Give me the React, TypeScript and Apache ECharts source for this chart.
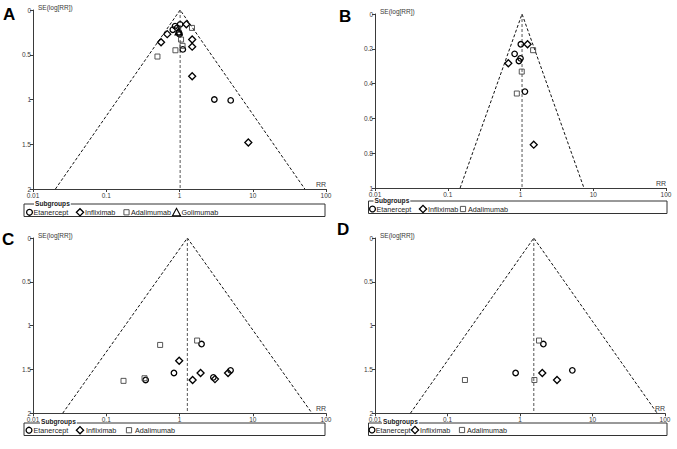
import React, { useEffect, useRef } from "react";
import * as echarts from "echarts";

// ---------- data ----------
const xTickLabels = ["0.01", "0.1", "1", "10", "100"];
const yTickLabels2 = ["0", "0.5", "1", "1.5", "2"];
const yTickLabels1 = ["0", "0.2", "0.4", "0.6", "0.8", "1"];
const groupNames = ["Etanercept", "Infliximab", "Adalimumab", "Golimumab"];

// Panel A  [RR, SE(log RR)]
const pooledA = 1.02;
const etanerceptA = [[0.87, 0.18], [1.02, 0.16], [0.81, 0.22], [0.93, 0.2], [0.98, 0.25], [1.0, 0.27], [1.11, 0.44], [2.99, 1.0], [5.0, 1.01]];
const infliximabA = [[1.24, 0.16], [0.68, 0.27], [0.56, 0.36], [1.49, 0.33], [1.49, 0.41], [1.49, 0.74], [8.7, 1.48]];
const adalimumabA = [[1.48, 0.2], [1.05, 0.33], [1.1, 0.4], [0.88, 0.45], [0.5, 0.52], [0.96, 0.22]];
const golimumabA = [[0.97, 0.24]];

// Panel B
const pooledB = 1.05;
const etanerceptB = [[1.01, 0.174], [0.83, 0.229], [1.0, 0.255], [0.95, 0.27], [1.15, 0.446]];
const infliximabB = [[1.25, 0.174], [0.68, 0.283], [1.52, 0.751]];
const adalimumabB = [[1.49, 0.208], [1.04, 0.331], [0.89, 0.457]];

// Panel C
const pooledC = 1.28;
const etanerceptC = [[2.0, 1.21], [0.84, 1.54], [0.345, 1.62], [2.9, 1.59], [4.98, 1.51]];
const infliximabC = [[0.99, 1.4], [1.94, 1.54], [1.51, 1.62], [3.05, 1.61], [4.6, 1.54]];
const adalimumabC = [[0.544, 1.22], [1.74, 1.17], [0.172, 1.63], [0.333, 1.6]];

// Panel D
const pooledD = 1.55;
const etanerceptD = [[2.1, 1.21], [0.87, 1.54], [5.27, 1.51]];
const infliximabD = [[2.03, 1.54], [3.24, 1.62]];
const adalimumabD = [[1.83, 1.17], [0.174, 1.62], [1.58, 1.62]];

// ---------- styles / layout ----------
const FONT = "'Liberation Sans', Arial, Helvetica, sans-serif";
const AXIS = "#3a3a3a";
const symbolStyles = [
  { symbol: "circle", size: 5.5, border: "#000", width: 1.3 },
  { symbol: "diamond", size: 7, border: "#000", width: 1.3 },
  { symbol: "rect", size: 5, border: "#444", width: 0.9 },
  { symbol: "triangle", size: 7, border: "#000", width: 1.1 },
];

const panels = [
  {
    letter: "A", letterPos: [3, 6],
    grid: { left: 33, top: 10, width: 293, height: 179 },
    yMax: 2, yInterval: 0.5, yLabels: yTickLabels2, pooled: pooledA,
    groups: [etanerceptA, infliximabA, adalimumabA, golimumabA],
    legendBox: [24, 204, 301, 12.5], subgroupsPos: [34, 203.5], itemsY: 212.3,
    iconX: [29.5, 80, 126.5, 176.5], textX: [33.5, 85, 131, 181.5],
  },
  {
    letter: "B", letterPos: [339, 8],
    grid: { left: 375, top: 14, width: 291, height: 174 },
    yMax: 1, yInterval: 0.2, yLabels: yTickLabels1, pooled: pooledB,
    groups: [etanerceptB, infliximabB, adalimumabB],
    legendBox: [368.5, 201, 298.5, 12.5], subgroupsPos: [373.5, 200.5], itemsY: 209,
    iconX: [372.5, 423, 463], textX: [376.5, 428, 468],
  },
  {
    letter: "C", letterPos: [2, 231],
    grid: { left: 33, top: 238, width: 293, height: 175.3 },
    yMax: 2, yInterval: 0.5, yLabels: yTickLabels2, pooled: pooledC,
    groups: [etanerceptC, infliximabC, adalimumabC],
    legendBox: [24, 423, 301, 12.5], subgroupsPos: [40, 421.8], itemsY: 430.2,
    iconX: [29, 80, 129], textX: [33.5, 86, 135],
  },
  {
    letter: "D", letterPos: [337, 221],
    grid: { left: 375, top: 238, width: 290, height: 175.3 },
    yMax: 2, yInterval: 0.5, yLabels: yTickLabels2, pooled: pooledD,
    groups: [etanerceptD, infliximabD, adalimumabD],
    legendBox: [368.5, 423, 298.5, 12.5], subgroupsPos: [382, 421.8], itemsY: 430,
    iconX: [372, 415, 462], textX: [375.8, 420, 467],
  },
];

function legendIcon(gi: number, cx: number, cy: number) {
  if (gi === 0) return { type: "circle", shape: { cx, cy, r: 2.9 }, style: { fill: "none", stroke: "#000", lineWidth: 1.3 } };
  if (gi === 1) return { type: "polygon", shape: { points: [[cx - 3.6, cy], [cx, cy - 3.6], [cx + 3.6, cy], [cx, cy + 3.6]] }, style: { fill: "none", stroke: "#000", lineWidth: 1.3 } };
  if (gi === 2) return { type: "rect", shape: { x: cx - 2.6, y: cy - 2.6, width: 5.2, height: 5.2 }, style: { fill: "none", stroke: "#444", lineWidth: 0.9 } };
  return { type: "polygon", shape: { points: [[cx - 4, cy + 3.5], [cx, cy - 4], [cx + 4, cy + 3.5]] }, style: { fill: "none", stroke: "#000", lineWidth: 1.1 } };
}

function buildOption() {
  const grid: any[] = [];
  const xAxis: any[] = [];
  const yAxis: any[] = [];
  const series: any[] = [];
  const graphic: any[] = [];

  panels.forEach((p, i) => {
    grid.push({ ...p.grid, containLabel: false });
    xAxis.push({
      type: "log", logBase: 10, min: 0.01, max: 100, gridIndex: i,
      axisLine: { onZero: false, lineStyle: { color: AXIS, width: 1 } },
      axisTick: { show: true, length: 3, lineStyle: { color: AXIS } },
      axisLabel: {
        fontSize: 6.5, color: AXIS, margin: 3, fontFamily: FONT, interval: 0,
        formatter: (v: number) => xTickLabels[Math.round(Math.log10(v)) + 2] ?? "",
      },
      splitLine: { show: false },
    });
    yAxis.push({
      type: "value", inverse: true, min: 0, max: p.yMax, interval: p.yInterval, gridIndex: i,
      axisLine: { show: true, onZero: false, lineStyle: { color: AXIS, width: 1 } },
      axisTick: { show: true, length: 3, lineStyle: { color: AXIS } },
      axisLabel: {
        fontSize: 6.5, color: AXIS, margin: 2, fontFamily: FONT,
        formatter: (_v: number, idx: number) => p.yLabels[idx] ?? "",
      },
      splitLine: { show: false },
    });

    const z = 1.96 * p.yMax;
    series.push({
      type: "line", xAxisIndex: i, yAxisIndex: i, symbol: "none", silent: true, z: 1,
      data: [[p.pooled * Math.exp(-z), p.yMax], [p.pooled, 0], [p.pooled * Math.exp(z), p.yMax]],
      lineStyle: { color: "#111", width: 1, type: [3, 2] },
    });
    series.push({
      type: "line", xAxisIndex: i, yAxisIndex: i, symbol: "none", silent: true, z: 1,
      data: [[p.pooled, 0], [p.pooled, p.yMax]],
      lineStyle: { color: "#555", width: 1, type: [3, 2] },
    });
    p.groups.forEach((g, gi) => {
      const s = symbolStyles[gi];
      series.push({
        type: "scatter", name: groupNames[gi], xAxisIndex: i, yAxisIndex: i, z: 3,
        symbol: s.symbol, symbolSize: s.size, data: g,
        itemStyle: { color: "rgba(0,0,0,0)", borderColor: s.border, borderWidth: s.width, opacity: 1 },
      });
    });

    // panel letter
    graphic.push({
      type: "text", x: p.letterPos[0], y: p.letterPos[1],
      style: { text: p.letter, font: `bold 17px ${FONT}`, fill: "#000", verticalAlign: "top" },
    });
    // axis names
    graphic.push({
      type: "text", x: p.grid.left + 5, y: p.grid.top - 3,
      style: { text: "SE(log[RR])", font: `6.5px ${FONT}`, fill: AXIS, verticalAlign: "middle" },
    });
    graphic.push({
      type: "text", x: p.grid.left + p.grid.width, y: p.grid.top + p.grid.height - 5,
      style: { text: "RR", font: `7px ${FONT}`, fill: AXIS, align: "right", verticalAlign: "middle" },
    });
    // legend
    const [bx, by, bw, bh] = p.legendBox;
    graphic.push({
      type: "rect", shape: { x: bx, y: by, width: bw, height: bh },
      style: { fill: "none", stroke: "#333", lineWidth: 1 },
    });
    graphic.push({
      type: "text", x: p.subgroupsPos[0], y: p.subgroupsPos[1],
      style: { text: "Subgroups", font: `bold 6.6px ${FONT}`, fill: "#222", verticalAlign: "middle", backgroundColor: "#fff", padding: [0, 1] },
    });
    p.groups.forEach((_g, gi) => {
      graphic.push(legendIcon(gi, p.iconX[gi], p.itemsY));
      graphic.push({
        type: "text", x: p.textX[gi], y: p.itemsY,
        style: { text: groupNames[gi], font: `7.2px ${FONT}`, fill: "#222", verticalAlign: "middle" },
      });
    });
  });

  return { animation: false, backgroundColor: "#fff", grid, xAxis, yAxis, series, graphic };
}

export default function App() {
  const ref = useRef<HTMLDivElement>(null);
  useEffect(() => {
    if (!ref.current) return;
    const chart = echarts.init(ref.current, undefined, { renderer: "svg" });
    chart.setOption(buildOption() as any);
    return () => chart.dispose();
  }, []);
  return (
    <div
      ref={ref}
      style={{ position: "fixed", left: 0, top: 0, width: 677, height: 449, background: "#fff" }}
    />
  );
}
